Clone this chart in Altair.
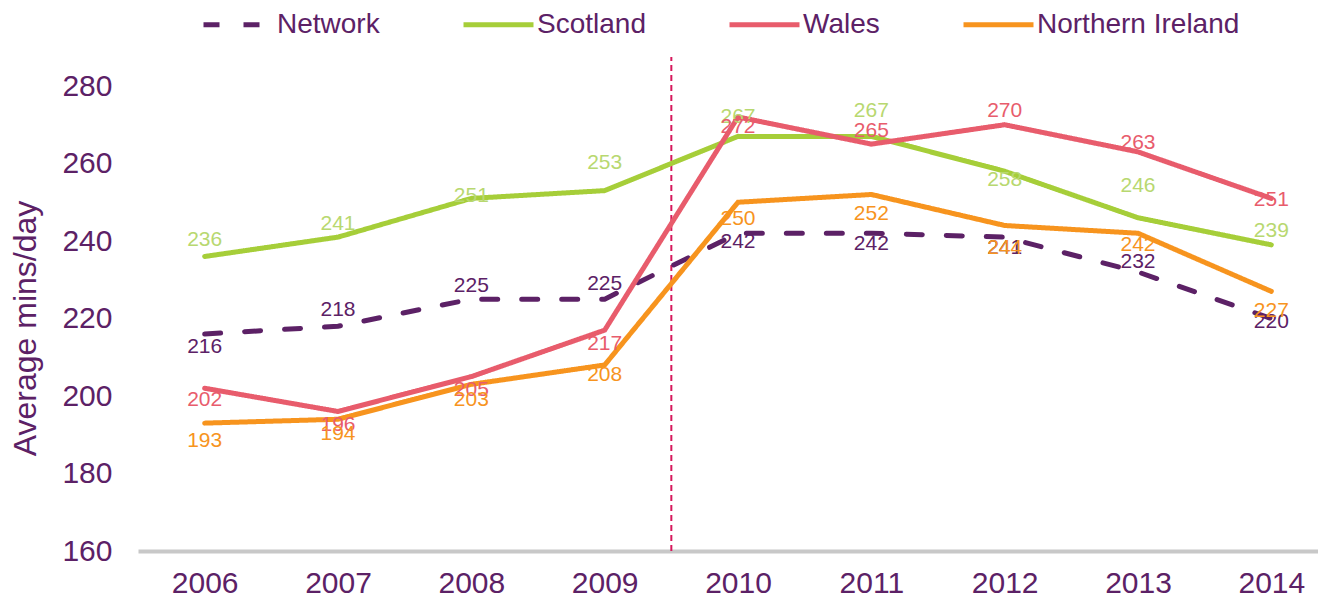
import altair as alt
import pandas as pd

years = [2006, 2007, 2008, 2009, 2010, 2011, 2012, 2013, 2014]
network = [216, 218, 225, 225, 242, 242, 241, 232, 220]
scotland = [236, 241, 251, 253, 267, 267, 258, 246, 239]
wales = [202, 196, 205, 217, 272, 265, 270, 263, 251]
northern_ireland = [193, 194, 203, 208, 250, 252, 244, 242, 227]

series_names = ["Network", "Scotland", "Wales", "Northern Ireland"]
line_colors = ["#5c2166", "#a6ce39", "#e85c6c", "#f7941e"]
label_colors = {"Network": "#5c2166", "Scotland": "#b8d870",
                "Wales": "#e85c6c", "Northern Ireland": "#f7941e"}
# pixel offsets of the value labels relative to their points
label_dy = {
    "Network": [13, -16, -13, -15, 9, 11, 11, -10, 3],
    "Scotland": [-17, -13, -2, -28, -19, -25, 9, -32, -14],
    "Wales": [12, 13, 13, 14, 10, -13, -14, -9, 2],
    "Northern Ireland": [18, 15, 16, 10, 17, 19, 22, 12, 20],
}

rows = []
for name, vals in zip(series_names, [network, scotland, wales, northern_ireland]):
    for i, (yr, v) in enumerate(zip(years, vals)):
        rows.append({"year": yr, "series": name, "value": v,
                     "dy": label_dy[name][i], "lcolor": label_colors[name]})
df = pd.DataFrame(rows)

PURPLE = "#5c2166"
FONT = "Liberation Sans"

x = alt.X("year:Q",
          scale=alt.Scale(domain=[2005.5, 2014.35], nice=False, zero=False),
          axis=alt.Axis(values=years, format="d", ticks=False, grid=False,
                        domainColor="#c8c8c8", domainWidth=4,
                        labelFontSize=30, labelColor=PURPLE, labelFont=FONT,
                        labelPadding=17, title=None))
y = alt.Y("value:Q",
          scale=alt.Scale(domain=[160, 280], nice=False, zero=False),
          axis=alt.Axis(values=[160, 180, 200, 220, 240, 260, 280], ticks=False,
                        grid=False, domain=False, labelFontSize=30,
                        labelColor=PURPLE, labelFont=FONT, labelPadding=26,
                        title="Average mins/day", titleFontSize=32,
                        titleFont=FONT, titleColor=PURPLE, titleFontWeight="normal",
                        titleX=-113, titleY=242, titleAngle=-90,
                        titleAlign="center", titleBaseline="middle"))

legend = alt.Legend(orient="none", legendX=63, legendY=-99, direction="horizontal",
                    title=None, symbolType="stroke", symbolSize=4900,
                    symbolStrokeWidth=5, labelFontSize=28, labelColor=PURPLE,
                    labelFont=FONT, columnPadding=73, labelOffset=1, padding=0,
                    labelLimit=0)

lines = alt.Chart(df).mark_line(strokeWidth=5, strokeCap="round").encode(
    x=x, y=y,
    color=alt.Color("series:N", sort=series_names,
                    scale=alt.Scale(domain=series_names, range=line_colors),
                    legend=legend),
    strokeDash=alt.StrokeDash("series:N", sort=series_names,
                              scale=alt.Scale(domain=series_names,
                                              range=[[16, 24], [1, 0], [1, 0], [1, 0]]),
                              legend=legend),
)

label_layers = []
for d in sorted(df["dy"].unique()):
    label_layers.append(
        alt.Chart(df).transform_filter(alt.datum.dy == int(d))
        .mark_text(fontSize=21, font=FONT, dy=int(d))
        .encode(x=x, y=y, text=alt.Text("value:Q"),
                color=alt.Color("lcolor:N", scale=None))
    )

divider = alt.Chart(pd.DataFrame({"year": [2009.5]})).mark_rule(
    color="#d6185c", strokeWidth=2, strokeDash=[6, 4]
).encode(x=alt.X("year:Q"), y=alt.datum(160), y2=alt.datum(287.5))

chart = alt.layer(divider, lines, *label_layers).properties(
    width=1180, height=465,
    autosize=alt.AutoSizeParams(type="none"),
    padding={"left": 130, "top": 78, "right": 0, "bottom": 52},
).configure_view(stroke=None)

chart.save("out.html", embed_options={"renderer": "svg", "actions": False})
